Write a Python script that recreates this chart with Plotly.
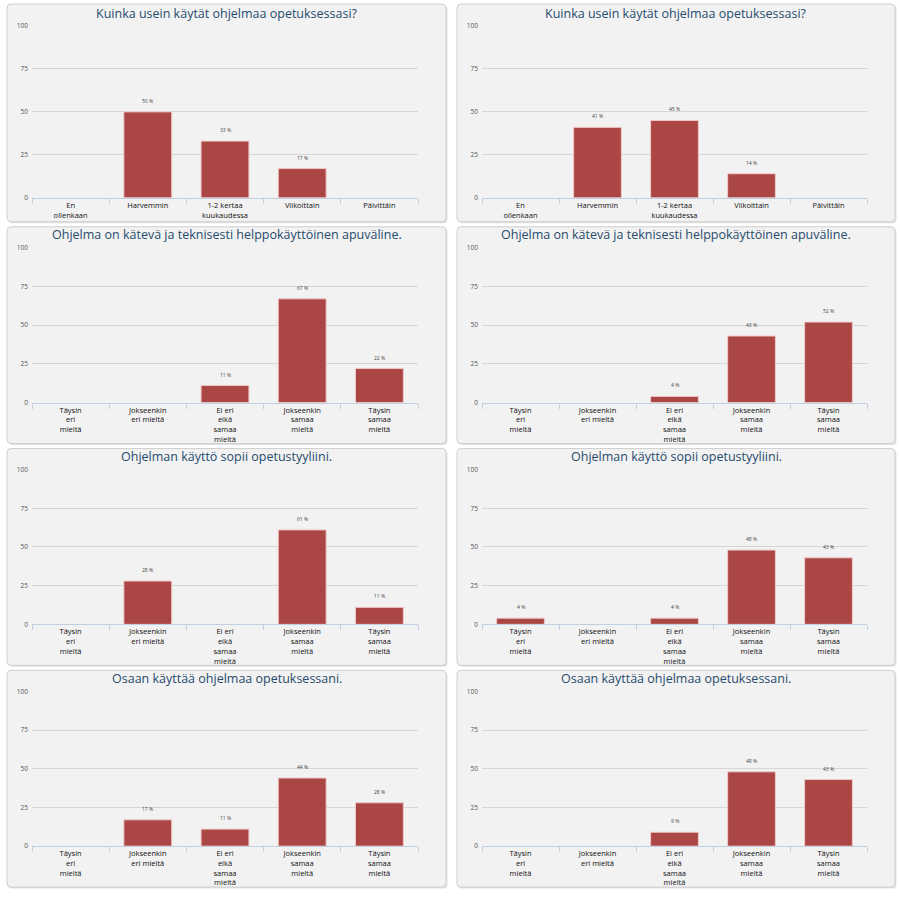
import plotly.graph_objects as go
from plotly.subplots import make_subplots

# ---------------- data ----------------
title_freq = "Kuinka usein käytät ohjelmaa opetuksessasi?"
title_easy = "Ohjelma on kätevä ja teknisesti helppokäyttöinen apuväline."
title_style = "Ohjelman käyttö sopii opetustyyliini."
title_skill = "Osaan käyttää ohjelmaa opetuksessani."

cats_freq = ["En<br>ollenkaan", "Harvemmin", "1-2 kertaa<br>kuukaudessa", "Viikoittain", "Päivittäin"]
cats_agree = ["Täysin<br>eri<br>mieltä", "Jokseenkin<br>eri mieltä", "Ei eri<br>eikä<br>samaa<br>mieltä",
              "Jokseenkin<br>samaa<br>mieltä", "Täysin<br>samaa<br>mieltä"]

freq_left = [0, 50, 33, 17, 0]
freq_right = [0, 41, 45, 14, 0]
easy_left = [0, 0, 11, 67, 22]
easy_right = [0, 0, 4, 43, 52]
style_left = [0, 28, 0, 61, 11]
style_right = [4, 0, 4, 48, 43]
skill_left = [0, 17, 11, 44, 28]
skill_right = [0, 0, 9, 48, 43]

y_ticks = [0, 25, 50, 75, 100]

panels = [
    (title_freq, cats_freq, freq_left), (title_freq, cats_freq, freq_right),
    (title_easy, cats_agree, easy_left), (title_easy, cats_agree, easy_right),
    (title_style, cats_agree, style_left), (title_style, cats_agree, style_right),
    (title_skill, cats_agree, skill_left), (title_skill, cats_agree, skill_right),
]

# ---------------- layout geometry (target pixels on screen) ----------------
W = H = 900
col_x = [(32, 418), (482, 867)]
row_y = [(25, 197), (247, 402), (469, 624), (691, 846)]
box_x = [(7, 446), (457, 895)]
box_y = [(3, 221), (226, 443), (448, 665), (670, 887)]
title_y = [13, 234, 456, 678]

BAR = "#AA4643"
TITLE_C = "#274b6d"
FONT = "Open Sans, DejaVu Sans, sans-serif"

fig = make_subplots(rows=4, cols=2)


def px_x(p):
    return p / W


def px_y(p):
    # small empirical correction for the rendered vertical placement
    d = (p - 4) / 0.991
    return 1 - d / H


def rounded(x0, y0, x1, y1, r=4):
    X0, X1 = px_x(x0), px_x(x1)
    Y0, Y1 = px_y(y0), px_y(y1)
    rx, ry = r / W, r / H
    return (f"M {X0+rx},{Y0} L {X1-rx},{Y0} Q {X1},{Y0} {X1},{Y0-ry} "
            f"L {X1},{Y1+ry} Q {X1},{Y1} {X1-rx},{Y1} L {X0+rx},{Y1} "
            f"Q {X0},{Y1} {X0},{Y1+ry} L {X0},{Y0-ry} Q {X0},{Y0} {X0+rx},{Y0} Z")


shapes = []
annotations = []
for i, (title, cats, vals) in enumerate(panels):
    r, c = divmod(i, 2)
    n = i + 1
    xs = "x" if n == 1 else f"x{n}"
    ys = "y" if n == 1 else f"y{n}"
    fig.add_trace(go.Bar(x=cats, y=vals,
                         marker=dict(color=BAR, line=dict(color="#f0c8c8",
                                                          width=[1 if v > 0 else 0 for v in vals])),
                         width=0.62, showlegend=False, hoverinfo="x+y"), row=r + 1, col=c + 1)
    bx0, bx1 = box_x[c]
    by0, by1 = box_y[r]
    shapes.append(dict(type="path", path=rounded(bx0 + 1.5, by0 + 1.5, bx1 + 1.5, by1 + 1.5),
                       xref="paper", yref="paper", fillcolor="rgba(0,0,0,0.12)",
                       line=dict(width=0), layer="below"))
    shapes.append(dict(type="path", path=rounded(bx0, by0, bx1, by1),
                       xref="paper", yref="paper", fillcolor="#f2f2f2",
                       line=dict(color="#cfcfcf", width=1), layer="below"))
    annotations.append(dict(text=title, x=(px_x(bx0) + px_x(bx1)) / 2, y=px_y(title_y[r]),
                            xref="paper", yref="paper", showarrow=False, xanchor="center", yanchor="middle",
                            font=dict(family=FONT, size=12.5, color=TITLE_C)))
    for cat, v in zip(cats, vals):
        if v > 0:
            annotations.append(dict(text=f"{v} %", x=cat, y=v, xref=xs, yref=ys, showarrow=False,
                                    yshift=11, font=dict(family=FONT, size=5, color="#444")))

    xa = dict(domain=[px_x(col_x[c][0]), px_x(col_x[c][1])], type="category",
              showgrid=False, showline=True, linecolor="#C0D0E0", linewidth=1,
              ticks="outside", ticklen=5, tickcolor="#C0D0E0", tickson="boundaries",
              tickfont=dict(family=FONT, size=7.5, color="#111"), zeroline=False, fixedrange=True)
    ya = dict(domain=[px_y(row_y[r][1]), px_y(row_y[r][0])], range=[0, 100], tickvals=y_ticks,
              showgrid=True, gridcolor="#d6d6d6", gridwidth=1, zeroline=False, showline=False,
              ticks="", tickfont=dict(family=FONT, size=6.5, color="#555"), ticklabelstandoff=3,
              fixedrange=True)
    fig.layout["xaxis" if n == 1 else f"xaxis{n}"].update(xa)
    fig.layout["yaxis" if n == 1 else f"yaxis{n}"].update(ya)

fig.update_layout(width=W, height=H, margin=dict(l=0, r=0, t=0, b=0),
                  paper_bgcolor="white", plot_bgcolor="rgba(0,0,0,0)",
                  shapes=shapes, annotations=annotations, bargap=0.38,
                  font=dict(family=FONT))

fig.write_html("out.html", config={"displayModeBar": False},
               post_script="document.body.style.margin='0';document.body.style.overflow='hidden';")
